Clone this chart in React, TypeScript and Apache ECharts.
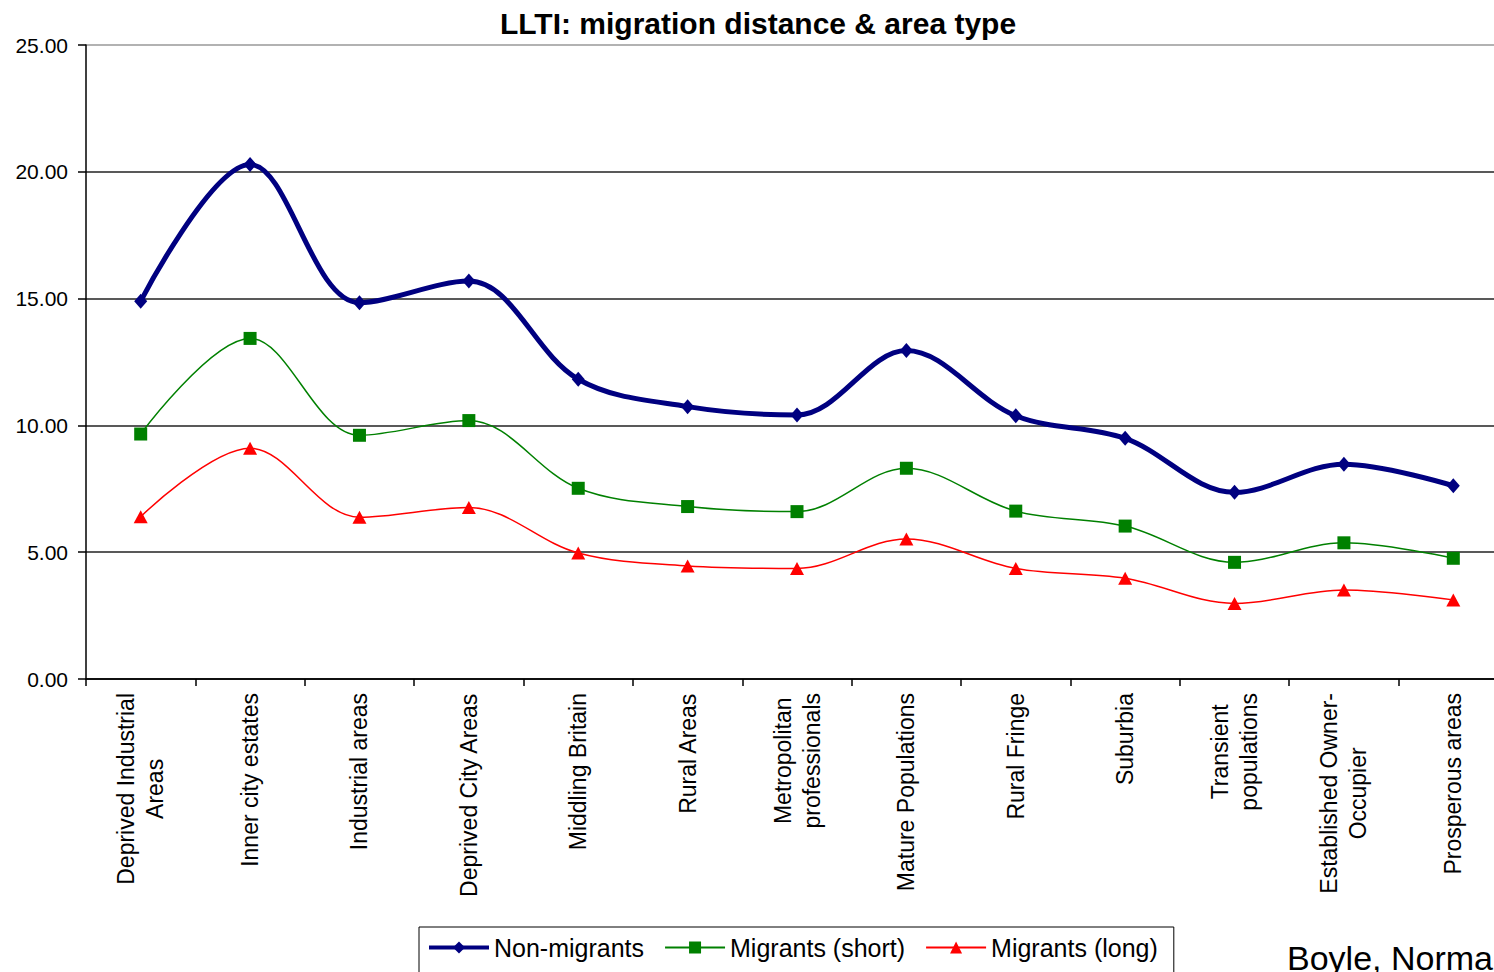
import React, { useEffect, useRef } from "react";
import * as echarts from "echarts";

const categories = [
  "Deprived Industrial\nAreas",
  "Inner city estates",
  "Industrial areas",
  "Deprived City Areas",
  "Middling Britain",
  "Rural Areas",
  "Metropolitan\nprofessionals",
  "Mature Populations",
  "Rural Fringe",
  "Suburbia",
  "Transient\npopulations",
  "Established Owner-\nOccupier",
  "Prosperous areas",
];

const nonMigrants = [14.9, 20.29, 14.84, 15.69, 11.82, 10.74, 10.41, 12.95, 10.38, 9.49, 7.36, 8.47, 7.62];
const migrantsShort = [9.66, 13.43, 9.61, 10.19, 7.52, 6.8, 6.6, 8.31, 6.62, 6.03, 4.6, 5.37, 4.76];
const migrantsLong = [6.4, 9.1, 6.38, 6.76, 4.97, 4.46, 4.36, 5.52, 4.36, 3.97, 2.98, 3.51, 3.12];

const yTicks = { min: 0, max: 25, interval: 5 };

const FONT = "'Liberation Sans', Arial, sans-serif";

export default function App() {
  const ref = useRef<HTMLDivElement>(null);

  useEffect(() => {
    if (!ref.current) return;
    const chart = echarts.init(ref.current, undefined, { renderer: "svg" });
    chart.setOption({
      animation: false,
      backgroundColor: "#ffffff",
      textStyle: { fontFamily: FONT },
      graphic: [
        {
          type: "text",
          x: 758,
          y: 23,
          style: {
            text: "LLTI: migration distance & area type",
            font: `bold 30px ${FONT}`,
            fill: "#000",
            align: "center",
            verticalAlign: "middle",
            textAlign: "center",
            textVerticalAlign: "middle",
          },
        },
        {
          type: "text",
          x: 1287,
          y: 958,
          style: {
            text: "Boyle, Norman",
            font: `34px ${FONT}`,
            fill: "#000",
            align: "left",
            verticalAlign: "middle",
            textAlign: "left",
            textVerticalAlign: "middle",
          },
        },
      ],
      legend: {
        left: 419,
        top: 927,
        orient: "horizontal",
        borderColor: "#000",
        borderWidth: 1,
        padding: [8, 16, 30, 8],
        itemWidth: 60,
        itemHeight: 15,
        itemGap: 20,
        selectedMode: false,
        textStyle: { fontSize: 25, color: "#000", fontFamily: FONT },
        data: [
          { name: "Non-migrants", lineStyle: { width: 4, color: "#000080" } },
          { name: "Migrants (short)", lineStyle: { width: 2, color: "#008000" } },
          { name: "Migrants (long)", lineStyle: { width: 2, color: "#ff0000" } },
        ],
      },
      grid: { left: 86, top: 45, width: 1422, height: 634, containLabel: false },
      xAxis: {
        type: "category",
        data: categories,
        boundaryGap: true,
        axisLine: { show: true, lineStyle: { color: "#000", width: 1.5 } },
        axisTick: { show: true, length: 7, lineStyle: { color: "#000", width: 1.5 }, alignWithLabel: false, interval: 0 },
        splitLine: { show: false },
        axisLabel: {
          interval: 0,
          rotate: 90,
          margin: 14,
          color: "#000",
          fontSize: 23,
          fontFamily: FONT,
          lineHeight: 29,
          formatter: (v: string) => v.split("\n").map((s) => `{c|${s}}`).join("\n"),
          rich: {
            c: { align: "center", fontSize: 23, lineHeight: 29, color: "#000", fontFamily: FONT },
          },
        },
      },
      yAxis: {
        type: "value",
        min: yTicks.min,
        max: yTicks.max,
        interval: yTicks.interval,
        axisLine: { show: true, lineStyle: { color: "#000", width: 1.5 } },
        axisTick: { show: true, length: 8, lineStyle: { color: "#000", width: 1.5 } },
        axisLabel: {
          margin: 18,
          color: "#000",
          fontSize: 21,
          fontFamily: FONT,
          formatter: (v: number) => v.toFixed(2),
        },
        splitLine: {
          show: true,
          lineStyle: { color: ["#000", "#222", "#222", "#222", "#222", "#999"], width: 1.5 },
        },
      },
      series: [
        {
          name: "Non-migrants",
          type: "line",
          data: nonMigrants,
          smooth: 0.35,
          symbol: "diamond",
          symbolSize: [13, 15],
          lineStyle: { color: "#000080", width: 5 },
          itemStyle: { color: "#000080" },
          z: 4,
        },
        {
          name: "Migrants (short)",
          type: "line",
          data: migrantsShort,
          smooth: 0.35,
          symbol: "rect",
          symbolSize: 13,
          lineStyle: { color: "#008000", width: 1.5 },
          itemStyle: { color: "#008000" },
          z: 3,
        },
        {
          name: "Migrants (long)",
          type: "line",
          data: migrantsLong,
          smooth: 0.35,
          symbol: "triangle",
          symbolSize: [14, 13],
          lineStyle: { color: "#ff0000", width: 1.5 },
          itemStyle: { color: "#ff0000" },
          z: 2,
        },
      ],
    });
    return () => chart.dispose();
  }, []);

  return (
    <div
      style={{
        position: "absolute",
        left: 0,
        top: 0,
        width: 1494,
        height: 972,
        overflow: "hidden",
        background: "#fff",
      }}
    >
      <div ref={ref} style={{ width: 1520, height: 972 }} />
    </div>
  );
}
